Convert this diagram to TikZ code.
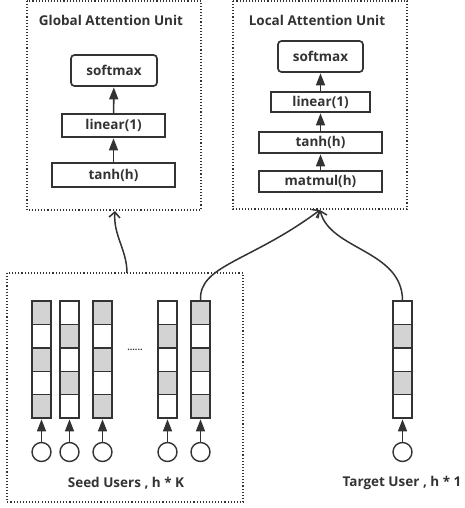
\documentclass[tikz,border=0pt]{standalone}
\usepackage{fontspec}
\setmainfont{Open Sans}
\usetikzlibrary{arrows.meta}
\definecolor{ink}{HTML}{333333}
\definecolor{cellgray}{HTML}{D3D3D3}
\tikzset{
  x=1pt, y=-1pt,
  every node/.style={font=\bfseries\fontsize{13.5}{15}\selectfont, text=ink},
  unitbox/.style={draw=ink, dotted, line width=1.1pt},
  layerbox/.style={draw=ink, line width=1.7pt, inner sep=0pt},
  roundbox/.style={layerbox, rounded corners=3.5pt},
  flow/.style={draw=ink, line width=1.6pt, -{Triangle[width=9pt,length=12pt]}, shorten >=0.5pt},
  feed/.style={draw=ink, line width=1.5pt, -{Straight Barb[width=11pt,length=5.5pt,line width=1.5pt]}},
  col/.style={draw=ink, line width=1.7pt, minimum width=19pt, minimum height=117pt, inner sep=0pt},
  cellw/.style={draw=ink, line width=1.4pt, fill=white},
  cellg/.style={draw=ink, line width=1.4pt, fill=cellgray},
  userdot/.style={circle, draw=ink, line width=1.4pt, minimum size=19pt, inner sep=0pt},
}
\newcommand{\colcells}[3]{% name, x-left, pattern start (0=gray first, 1=white first)
  \foreach \i in {0,...,4}{
    \pgfmathtruncatemacro{\g}{mod(\i+#3,2)}
    \ifnum\g=0
      \draw[cellg] (#2,301+23.4*\i) rectangle ++(19,23.4);
    \else
      \draw[cellw] (#2,301+23.4*\i) rectangle ++(19,23.4);
    \fi
  }
  \node[col] (#1) at (#2+9.5,359.5) {};
}
\begin{document}
\begin{tikzpicture}
\useasboundingbox (0,0) rectangle (465,508);
% Global attention unit
\draw[unitbox] (27,1) rectangle (201,210);
\node (gtitle) at (111,20) {Global Attention Unit};
\node[roundbox, minimum width=86pt, minimum height=31pt] (gsoft) at (114,70.5) {softmax};
\node[layerbox, minimum width=103pt, minimum height=23pt] (glin) at (113.5,125.5) {linear(1)};
\node[layerbox, minimum width=123pt, minimum height=24pt] (gtanh) at (113.5,175) {tanh(h)};
\coordinate (gin) at (115,211);
\draw[flow] (gtanh) -- (glin);
\draw[flow] (glin) -- (gsoft);
% Local attention unit
\draw[unitbox] (233,1) rectangle (407,209);
\node (ltitle) at (317,20) {Local Attention Unit};
\node[roundbox, minimum width=85pt, minimum height=31pt] (lsoft) at (320.5,56.5) {softmax};
\node[layerbox, minimum width=99pt, minimum height=20pt] (llin) at (320.5,102) {linear(1)};
\node[layerbox, minimum width=123pt, minimum height=21pt] (ltanh) at (320.5,142.5) {tanh(h)};
\node[layerbox, minimum width=123pt, minimum height=21pt] (lmat) at (320.5,181.5) {matmul(h)};
\coordinate (lin) at (320,210);
\draw[flow] (lmat) -- (ltanh);
\draw[flow] (ltanh) -- (llin);
\draw[flow] (llin) -- (lsoft);
% Seed users box
\draw[unitbox] (7,273) rectangle (243,502);
\coordinate (seedtop) at (127,273);
\colcells{c1}{32}{0}
\colcells{c2}{60}{1}
\colcells{c3}{93}{0}
\colcells{c4}{158}{1}
\colcells{c5}{191}{0}
\colcells{t1}{393}{1}
\node[font=\bfseries\fontsize{9}{10}\selectfont] (dots) at (135,350) {......};
\foreach \n/\x in {c1/41.5, c2/69.5, c3/102.5, c4/167.5, c5/200.5, t1/402.5}{
  \node[userdot] (u\n) at (\x,452) {};
  \draw[flow] (u\n) -- (\n);
}
\node (seedlbl) at (126,483) {Seed Users , h * K};
\node (tgtlbl) at (402,483) {Target User , h * 1};
% feeds
\draw[feed] (seedtop) .. controls (127,250) and (113,235) .. (gin);
\draw[feed] (c5.north) .. controls (199,265) and (250,262) .. (lin);
\draw[feed] (t1.north) .. controls (402,250) and (330,250) .. (lin);
\end{tikzpicture}
\end{document}
